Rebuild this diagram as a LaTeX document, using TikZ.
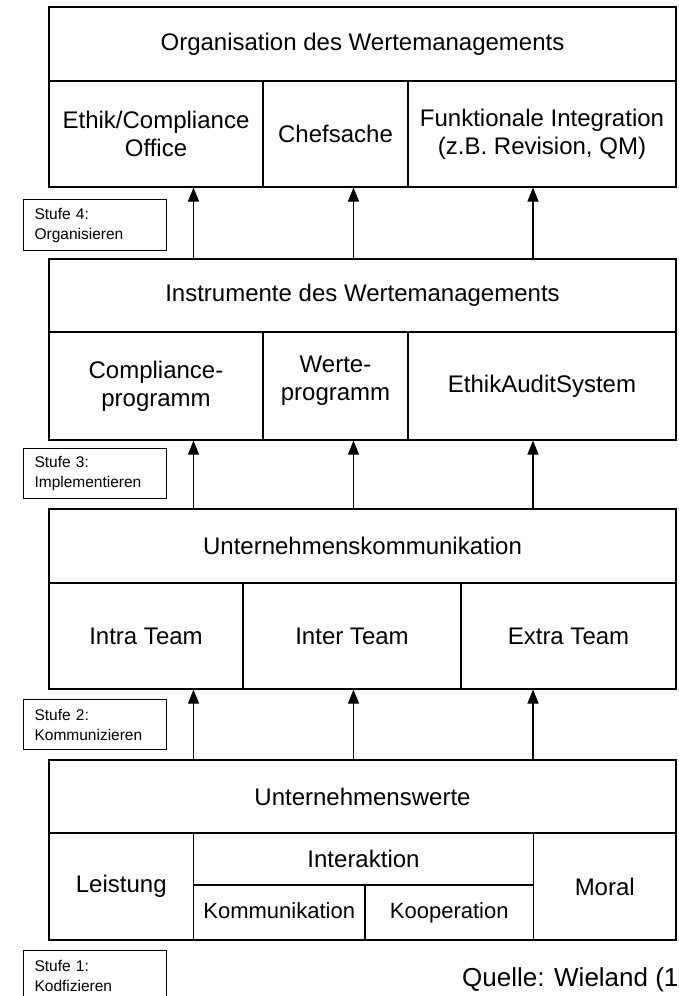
\documentclass[tikz,border=0pt]{standalone}
\usepackage{fontspec}
\setmainfont{Liberation Sans}
\usetikzlibrary{arrows.meta}
\tikzset{
  cell/.style={draw, line width=1.1pt, inner sep=0pt, align=center,
    font=\fontsize{24}{28}\selectfont},
  smallcell/.style={cell, text height=16pt, text depth=5pt,
    font=\fontsize{22}{26}\selectfont},
  stufebox/.style={draw, line width=1.1pt, anchor=north west,
    minimum width=143pt, minimum height=50pt, text width=121pt,
    inner xsep=11pt, inner ysep=0pt, align=left,
    font=\fontsize{15.5}{20}\selectfont},
  up/.style={-{Triangle[width=11pt,length=14pt]}, line width=1.1pt}
}
\begin{document}
\begin{tikzpicture}[x=1pt,y=-1pt]
      \useasboundingbox (0,0) rectangle (679,996);
      \clip (0,0) rectangle (679,996);
      \node[cell, minimum width=627pt, minimum height=74pt] (org) at (362.5,44) {Organisation des Wertemanagements};
      \node[cell, minimum width=214pt, minimum height=106pt] (office) at (156,134) {Ethik/Compliance\\Office};
      \node[cell, minimum width=145pt, minimum height=106pt] (chef) at (335.5,134) {Chefsache};
      \node[cell, minimum width=268pt, minimum height=106pt] (funk) at (542,134) {Funktionale Integration\\(z.B. Revision, QM)};
      \node[cell, minimum width=627pt, minimum height=73pt] (instr) at (362.5,295.5) {Instrumente des Wertemanagements};
      \node[cell, minimum width=214pt, minimum height=108pt] (comp) at (156,386) {Compliance-\\programm};
      \node[cell, minimum width=145pt, minimum height=108pt] (wprog) at (335.5,386) {Werte-\\programm\\[-12pt]\mbox{}};
      \node[cell, minimum width=268pt, minimum height=108pt] (audit) at (542,386) {EthikAuditSystem};
      \node[cell, minimum width=627pt, minimum height=74pt] (komm) at (362.5,546) {Unternehmenskommunikation};
      \node[cell, minimum width=194pt, minimum height=106pt] (intra) at (146,636) {Intra Team};
      \node[cell, minimum width=218pt, minimum height=106pt] (inter) at (352,636) {Inter Team};
      \node[cell, minimum width=215pt, minimum height=106pt] (extra) at (568.5,636) {Extra Team};
      \node[cell, minimum width=627pt, minimum height=73pt] (werte) at (362.5,796.5) {Unternehmenswerte};
      \node[cell, minimum width=144.5pt, minimum height=107pt] (leist) at (121.25,886.5) {Leistung};
      \node[cell, minimum width=340pt, minimum height=52pt] (ikt) at (363.5,859) {Interaktion};
      \node[smallcell, minimum width=171.5pt, minimum height=55pt] (kommu) at (279.25,912.5) {Kommunikation};
      \node[smallcell, minimum width=168.5pt, minimum height=55pt] (koop) at (449.25,912.5) {Kooperation};
      \node[cell, minimum width=142.5pt, minimum height=107pt] (moral) at (604.75,886.5) {Moral};
      \coordinate (a1) at (193.5,0);
      \coordinate (a2) at (353.5,0);
      \coordinate (a3) at (533,0);
      \foreach \a in {a1,a2,a3} {
        \draw[up] (instr.north -| \a) -- (chef.south -| \a);
        \draw[up] (komm.north -| \a) -- (wprog.south -| \a);
        \draw[up] (werte.north -| \a) -- (inter.south -| \a);
      }
      \node[stufebox, minimum height=51pt] (s4) at (23,199) {Stufe 4:\\Organisieren};
      \node[stufebox] (s3) at (23,448) {Stufe 3:\\Implementieren};
      \node[stufebox] (s2) at (23,699) {Stufe 2:\\Kommunizieren};
      \node[stufebox] (s1) at (23,950) {Stufe 1:\\Kodfizieren};
      \node[anchor=base west, inner sep=0pt, font=\fontsize{26}{30}\selectfont] (quelle) at (462,986) {Quelle: Wieland (1};
    \end{tikzpicture}
\end{document}
